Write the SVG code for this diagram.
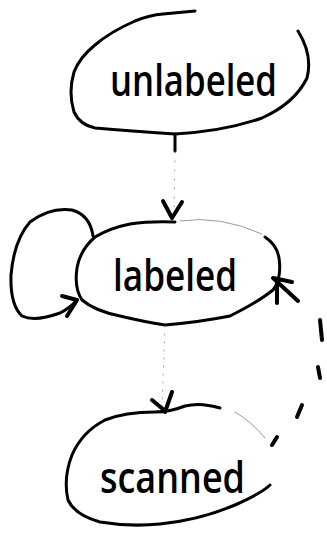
<svg xmlns="http://www.w3.org/2000/svg" width="327" height="535" viewBox="0 0 327 535">
  <style>
    .ink { fill: none; stroke: #000; stroke-width: 3; stroke-linecap: round; stroke-linejoin: round; }
    .head { fill: none; stroke: #000; stroke-width: 4; stroke-linecap: round; stroke-linejoin: round; }
    .faint { fill: none; stroke: #9a9a9a; stroke-width: 1; stroke-linecap: round; }
    .dash { fill: none; stroke: #000; stroke-width: 4; stroke-linecap: round; }
    .label { font-family: "Open Sans", "Liberation Sans", sans-serif; font-size: 44px; font-weight: 600; fill: #000; }
  </style>
  <rect width="327" height="535" fill="#fff"/>

  <!-- state: unlabeled -->
  <g id="unlabeled">
    <path class="ink" d="M195 11 L163 14 Q150 15 135 21 Q110 32 95 45 Q80 57 74 72 Q68 92 74 112 Q80 125 95 128 Q130 131 175 134 Q225 131 262 118 Q295 103 307 78 Q313 55 298 31"/>
    <text class="label" x="110" y="96" textLength="167" lengthAdjust="spacingAndGlyphs">unlabeled</text>
  </g>

  <!-- state: labeled -->
  <g id="labeled">
    <path class="ink" d="M175 222 Q150 221 130 224 Q110 228 95 237 Q80 250 77 268 Q74 288 82 300 Q95 311 120 316 Q145 322 165 325 Q200 322 230 316 Q258 302 273 290 Q282 278 279 258 Q277 245 265 237"/>
    <path class="faint" d="M180 221 Q220 215 262 234"/>
    <text class="label" x="113" y="291" textLength="124" lengthAdjust="spacingAndGlyphs">labeled</text>
  </g>

  <!-- state: scanned -->
  <g id="scanned">
    <path class="ink" d="M220 408 Q200 402 185 406 Q170 412 155 412 Q125 412 105 420 Q82 432 72 455 Q63 478 68 500 Q75 515 100 522 Q130 527 160 524 Q200 520 235 505 Q262 493 270 485"/>
    <path class="faint" d="M235 412 Q252 422 265 438"/>
    <text class="label" x="100" y="493" textLength="145" lengthAdjust="spacingAndGlyphs">scanned</text>
  </g>

  <!-- connectors -->
  <g id="connectors">
    <!-- unlabeled to labeled -->
    <path class="ink" d="M175 134 L175 151"/>
    <path class="faint" d="M175 152 L174 216" stroke-dasharray="1 8"/>
    <path class="head" d="M163 201 L172 218 L182 202"/>

    <!-- labeled self-loop -->
    <path class="ink" d="M93 236 Q90 215 72 210 Q50 207 30 222 Q14 240 11 275 Q10 305 22 316 Q35 322 60 313 Q70 308 77 300"/>
    <path class="head" d="M62 296 L77 300 L67 316"/>

    <!-- labeled to scanned -->
    <path class="faint" d="M165 326 L162 408" stroke-dasharray="1 7"/>
    <path class="head" d="M152 400 L164 410 M172 392 L165 412"/>

    <!-- scanned back to labeled (dashed) -->
    <path class="dash" d="M272 445 L277 437"/>
    <path class="dash" d="M297 417 L302 405"/>
    <path class="dash" d="M318 367 L320 378"/>
    <path class="dash" d="M320 320 L322 340"/>
    <path class="head" d="M273 278 L298 301 M277 281 L277 303 M273 278 L292 282"/>
  </g>
</svg>
